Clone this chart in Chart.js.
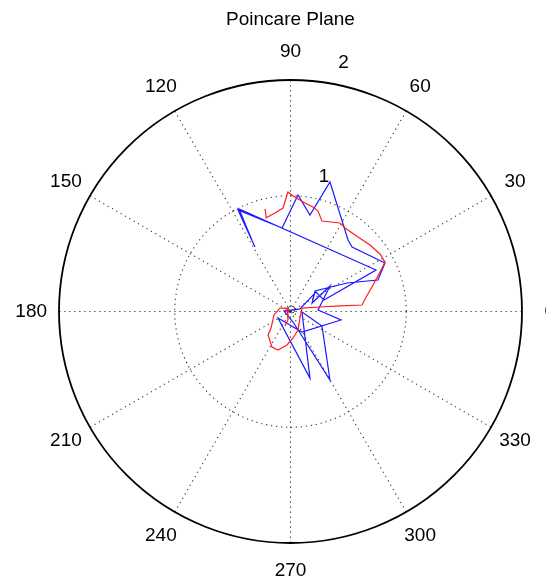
<!DOCTYPE html>
<html>
<head>
<meta charset="utf-8">
<script src="https://cdn.jsdelivr.net/npm/chart.js@4/dist/chart.umd.min.js"></script>
<style>
  html, body { margin: 0; padding: 0; background: #fff; }
  #wrap { width: 546px; height: 579px; }
</style>
</head>
<body>
<div id="wrap"><canvas id="myChart" width="546" height="579"></canvas></div>
<script>
  // values (x, y in plot units, outer ring = 2)
  var redX = [-0.22, -0.21, -0.134, -0.065, -0.022, 0.022, 0.125, 0.194, 0.238, 0.272, 0.428, 0.471, 0.583, 0.687, 0.773, 0.816, 0.773, 0.713, 0.644, 0.618, 0.428, 0.255, 0.099, 0.082, 0.065, 0.022, -0.03, -0.108, -0.16, -0.194, -0.168, -0.143, -0.091, -0.03, -0.022, -0.048];
  var redY = [0.886, 0.81, 0.851, 0.894, 1.032, 0.998, 0.937, 0.903, 0.868, 0.782, 0.765, 0.721, 0.644, 0.575, 0.497, 0.427, 0.34, 0.229, 0.108, 0.056, 0.048, 0.039, 0.03, -0.056, -0.16, -0.229, -0.289, -0.333, -0.307, -0.203, -0.143, -0.03, 0.03, 0.03, -0.073, -0.125];
  var blueX = [-0.307, -0.454, -0.073, 0.065, 0.168, 0.341, 0.497, 0.532, 0.816, 0.756, 0.488, 0.212, 0.186, 0.341, 0.238, 0.436, 0.099, -0.108, 0.168, 0.099, 0.272, 0.341, 0.022, -0.056, 0.082, 0.22, 0.289, 0.739, -0.445, -0.33];
  var blueY = [0.557, 0.877, 0.721, 1.006, 0.834, 1.119, 0.618, 0.557, 0.419, 0.272, 0.246, 0.177, 0.073, 0.22, 0.013, -0.073, -0.177, -0.056, -0.575, -0.004, -0.125, -0.592, -0.091, 0.004, 0.022, 0.168, 0.099, 0.359, 0.886, 0.61];
  var angleTicks = [0, 30, 60, 90, 120, 150, 180, 210, 240, 270, 300, 330];
  var radiusTicks = [1, 2];
  var rMax = 2;

  function pts(xs, ys) {
    return xs.map(function (x, i) { return { x: x, y: ys[i] }; });
  }

  var font = '"Liberation Sans", Arial, Helvetica, sans-serif';

  var polarGrid = {
    id: 'polarGrid',
    beforeDatasetsDraw: function (chart) {
      var c = chart.ctx, sx = chart.scales.x, sy = chart.scales.y;
      var cx = sx.getPixelForValue(0), cy = sy.getPixelForValue(0);
      var unit = sx.getPixelForValue(1) - cx;
      c.save();
      // dotted spokes
      c.strokeStyle = '#333';
      c.lineWidth = 1.1;
      c.setLineDash([1.2, 3.8]);
      angleTicks.forEach(function (a) {
        var t = a * Math.PI / 180;
        c.beginPath();
        c.moveTo(cx, cy);
        c.lineTo(cx + Math.cos(t) * rMax * unit, cy - Math.sin(t) * rMax * unit);
        c.stroke();
      });
      // inner dotted ring
      radiusTicks.forEach(function (r) {
        if (r >= rMax) return;
        c.beginPath();
        c.arc(cx, cy, r * unit, 0, Math.PI * 2);
        c.stroke();
      });
      c.setLineDash([]);
      // outer ring
      c.strokeStyle = '#000';
      c.lineWidth = 1.8;
      c.beginPath();
      c.arc(cx, cy, rMax * unit, 0, Math.PI * 2);
      c.stroke();
      // small marker at origin
      c.strokeStyle = '#555';
      c.lineWidth = 1;
      c.beginPath();
      c.arc(cx + 1, cy - 2, 3.5, 0, Math.PI * 2);
      c.stroke();
      // angle labels
      c.fillStyle = '#000';
      c.font = '19px ' + font;
      c.textAlign = 'center';
      c.textBaseline = 'middle';
      angleTicks.forEach(function (a) {
        var t = a * Math.PI / 180;
        var rr = rMax * unit * 1.12;
        c.fillText(String(a), cx + Math.cos(t) * rr, cy - Math.sin(t) * rr);
      });
      // radius labels
      var rlab = [[1, 1.2, 76], [2, 2.2, 78]];
      rlab.forEach(function (l) {
        var t = l[2] * Math.PI / 180;
        c.fillText(String(l[0]), cx + Math.cos(t) * l[1] * unit, cy - Math.sin(t) * l[1] * unit);
      });
      // title
      c.fillText('Poincare Plane', cx, 20);
      c.restore();
    }
  };

  var ctx = document.getElementById('myChart').getContext('2d');
  var myChart = new Chart(ctx, {
      type: 'scatter',
      data: {
          datasets: [{
              label: 'red',
              data: pts(redX, redY),
              showLine: true,
              borderColor: 'rgba(255, 30, 30, 1)',
              borderWidth: 1.2,
              pointRadius: 0,
              tension: 0
          }, {
              label: 'blue',
              data: pts(blueX, blueY),
              showLine: true,
              borderColor: 'rgba(25, 25, 255, 1)',
              borderWidth: 1.2,
              pointRadius: 0,
              tension: 0
          }]
      },
      plugins: [polarGrid],
      options: {
          responsive: false,
          animation: false,
          layout: { padding: { left: 59, right: 24, top: 80, bottom: 36 } },
          plugins: { legend: { display: false }, tooltip: { enabled: false } },
          scales: {
              x: { type: 'linear', min: -2, max: 2, display: false },
              y: { type: 'linear', min: -2, max: 2, display: false }
          }
      }
  });
</script>
</body>
</html>
